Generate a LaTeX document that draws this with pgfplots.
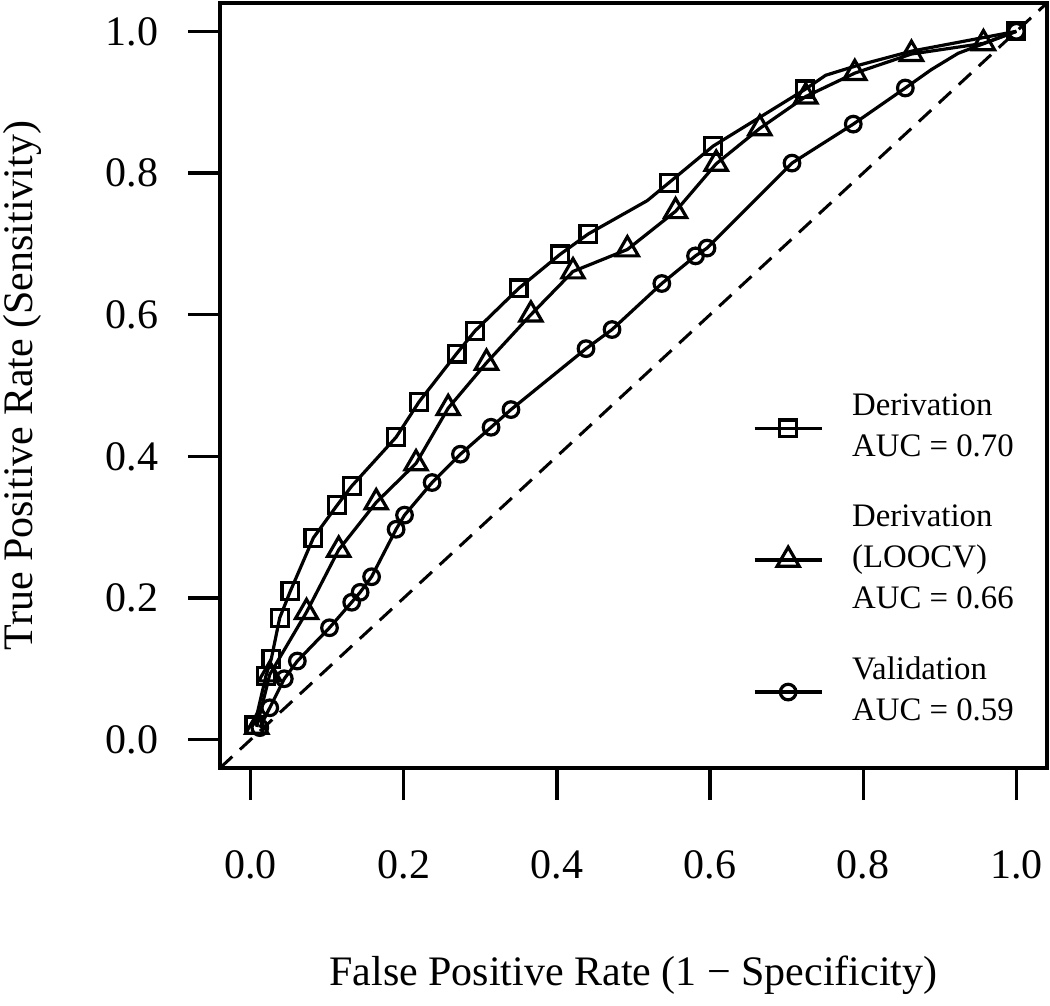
\documentclass[border=0pt]{standalone}
\usepackage{fontspec}
\setmainfont{Liberation Serif}
\usepackage{pgfplots}
\usepackage{pgfplotstable}
\pgfplotsset{compat=1.18}

\pgfplotstableread{
x y
0.005 0.020
0.020 0.090
0.027 0.114
0.038 0.172
0.052 0.210
0.082 0.285
0.113 0.331
0.132 0.358
0.190 0.427
0.220 0.477
0.269 0.545
0.293 0.577
0.350 0.637
0.404 0.685
0.441 0.714
0.518 0.761
0.546 0.786
0.604 0.838
0.724 0.918
0.751 0.938
0.790 0.951
0.863 0.972
1.000 1.000
}\deriv

\pgfplotstableread{
x y
0.008 0.018
0.025 0.092
0.073 0.180
0.115 0.268
0.164 0.335
0.216 0.390
0.258 0.468
0.308 0.532
0.366 0.600
0.421 0.661
0.492 0.692
0.555 0.746
0.608 0.813
0.665 0.863
0.725 0.908
0.789 0.941
0.863 0.968
0.957 0.983
1.000 1.000
}\loocv

\pgfplotstableread{
x y
0.012 0.017
0.025 0.045
0.044 0.086
0.061 0.111
0.103 0.158
0.132 0.194
0.143 0.208
0.158 0.230
0.190 0.297
0.201 0.317
0.237 0.363
0.274 0.403
0.314 0.441
0.340 0.466
0.438 0.552
0.472 0.579
0.537 0.644
0.581 0.683
0.596 0.694
0.707 0.814
0.787 0.869
0.855 0.920
0.889 0.946
0.924 0.969
1.000 1.000
}\valid

\begin{document}
\fontsize{10.5}{12.6}\selectfont
\begin{tikzpicture}
\useasboundingbox (-55pt,-59.5pt) rectangle (207.5pt,192pt);
\begin{axis}[
  scale only axis, width=206.75pt, height=191.25pt,
  at={(0,0)}, anchor=south west,
  xmin=-0.04, xmax=1.04, ymin=-0.04, ymax=1.04,
  xtick={0,0.2,0.4,0.6,0.8,1}, ytick={0,0.2,0.4,0.6,0.8,1},
  xticklabels={0.0,0.2,0.4,0.6,0.8,1.0},
  yticklabels={0.0,0.2,0.4,0.6,0.8,1.0},
  xtick pos=left, ytick pos=left,
  tick align=outside, major tick length=8pt,
  tick style={line width=0.8pt, black},
  axis line style={line width=0.95pt},
  tick label style={font=\fontsize{10.5}{12.6}\selectfont},
  xticklabel style={yshift=-9pt},
  yticklabel style={xshift=-3.75pt},
  label style={font=\fontsize{10.5}{12.6}\selectfont},
  xlabel={False Positive Rate (1 − Specificity)},
  xlabel style={at={(axis description cs:0.5,-0.2837)}, anchor=base},
  ylabel={True Positive Rate (Sensitivity)},
  ylabel style={at={(axis description cs:-0.2273,0.5)}, anchor=base},
  legend cell align=left,
  legend image code/.code={
    \draw[#1, mark=none] (0cm,0cm) -- (0.59cm,0cm);
    \draw[#1, mark indices={1}] plot coordinates {(0.295cm,0cm)};
  },
  legend style={at={(0.6445,0.489)}, anchor=north west, draw=none, fill=none,
    inner sep=0pt, outer sep=0pt, font=\fontsize{8.2}{10.2}\selectfont,
    row sep=10.6pt, column sep=0pt,
    nodes={align=left, anchor=west, inner sep=0pt},
    /tikz/every odd column/.style={column sep=7.2pt}},
]
\addplot[forget plot, black, line width=0.75pt, dash pattern=on 4.2pt off 2.6pt]
  coordinates {(-0.04,-0.04) (1.04,1.04)};
\addplot[black, line width=0.8pt, mark=square, mark size=2.1pt,
  mark options={solid, line width=0.8pt},
  mark indices={1,2,3,4,5,6,7,8,9,10,11,12,13,14,15,17,18,19,23}]
  table {\deriv};
\addlegendentry{Derivation\\AUC = 0.70}
\addplot[black, line width=0.8pt, mark=triangle, mark size=3.2pt,
  mark options={solid, line width=0.8pt},
  mark indices={1,2,3,4,5,6,7,8,9,10,11,12,13,14,15,16,17,18}]
  table {\loocv};
\addlegendentry{Derivation\\(LOOCV)\\AUC = 0.66}
\addplot[black, line width=0.8pt, mark=o, mark size=1.95pt,
  mark options={solid, line width=0.8pt},
  mark indices={1,2,3,4,5,6,7,8,9,10,11,12,13,14,15,16,17,18,19,20,21,22,25}]
  table {\valid};
\addlegendentry{Validation\\AUC = 0.59}
\end{axis}
\end{tikzpicture}
\end{document}
